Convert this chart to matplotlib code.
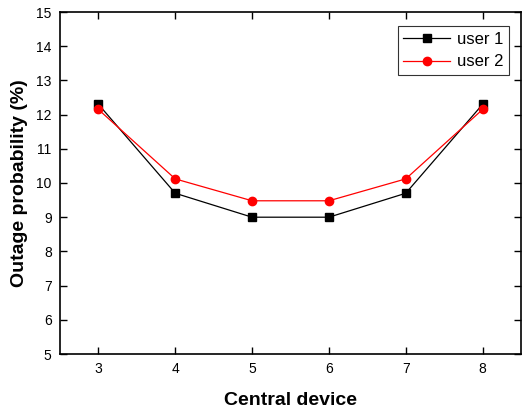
import matplotlib
matplotlib.use("Agg")
import matplotlib.pyplot as plt

central_device = [3, 4, 5, 6, 7, 8]
user1 = [12.3, 9.7, 9.0, 9.0, 9.7, 12.3]
user2 = [12.15, 10.12, 9.48, 9.48, 10.12, 12.15]
y_ticks = list(range(5, 16))

plt.rcParams['font.family'] = ['Liberation Sans', 'DejaVu Sans']

fig = plt.figure(figsize=(5.22, 4.08), dpi=100)
ax = fig.add_axes([60/522, 1-354/408, 461/522, 342/408])

ax.plot(central_device, user1, color='black', marker='s', markersize=5.2,
        linewidth=0.9, label='user 1')
ax.plot(central_device, user2, color='red', marker='o', markersize=6,
        linewidth=0.9, label='user 2')

ax.set_xlim(2.5, 8.5)
ax.set_ylim(5, 15)
ax.set_xticks(central_device)
ax.set_yticks(y_ticks)
ax.tick_params(direction='in', top=True, right=True, labelsize=10, length=5,
               width=1, pad=6)
for s in ax.spines.values():
    s.set_linewidth(1.2)

ax.set_xlabel('Central device', fontsize=14, fontweight='bold', labelpad=11)
ax.set_ylabel('Outage probability (%)', fontsize=14, fontweight='bold', labelpad=6)

leg = ax.legend(loc='upper right', bbox_to_anchor=(0.974, 0.959), borderaxespad=0,
                fontsize=12, frameon=True, fancybox=False, edgecolor='black',
                handlelength=2.8, borderpad=0.35, labelspacing=0.45, handletextpad=0.4)
leg.get_frame().set_linewidth(0.8)

fig.savefig('out.png', dpi=100)
